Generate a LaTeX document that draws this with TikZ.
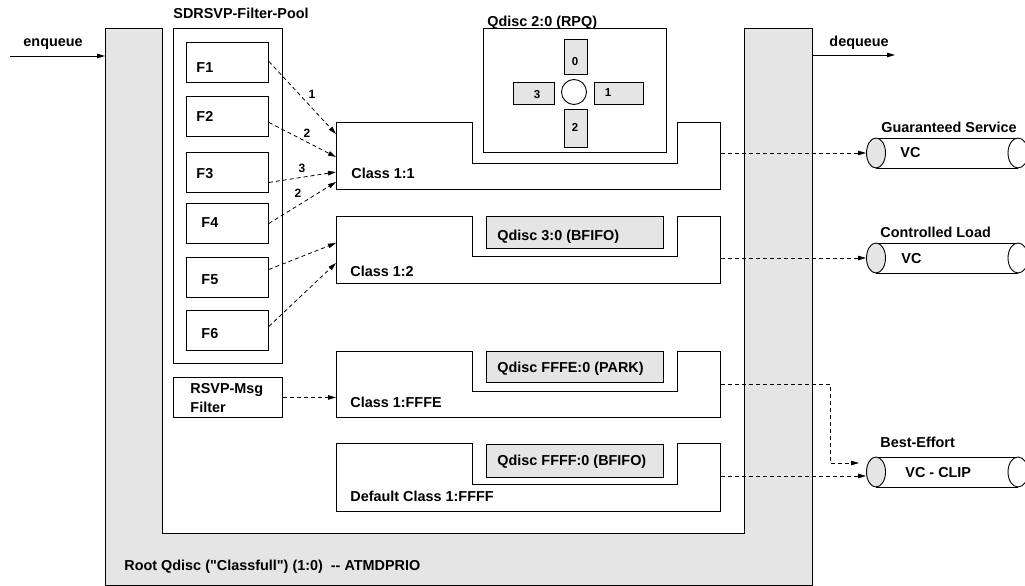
\documentclass[tikz,border=0pt]{standalone}
\usepackage{fontspec}
\setmainfont{Liberation Sans}[Ligatures=TeXOff]
\usetikzlibrary{arrows.meta,shapes.geometric}
\definecolor{qgray}{RGB}{229,229,229}

% notched outline of a traffic class: top edge, bottom of the notch, bottom edge
\newcommand\classoutline[3]{%
  \draw[fill=white] (336,#1) -- (472,#1) -- (472,#2) -- (677,#2) -- (677,#1)
    -- (720,#1) -- (720,#3) -- (336,#3) -- cycle;}

% virtual-circuit pipe: name, centre y
\newcommand\vcpipe[2]{%
  \fill[white] (876,#2-15) rectangle (1018,#2+15);
  \draw (876,#2-15) -- (1018,#2-15);
  \draw (876,#2+15) -- (1018,#2+15);
  \draw[fill=white] (1018,#2) ellipse [x radius=10, y radius=15];
  \node[draw, ellipse, fill=qgray, minimum width=19pt, minimum height=30pt, inner sep=0pt] (#1) at (876,#2) {};}

\begin{document}
\begin{tikzpicture}[x=1pt, y=-1pt, line width=0.9pt,
  lbl/.style={font=\fontsize{14.4}{17}\selectfont\bfseries, inner sep=0pt, anchor=base west},
  digit/.style={font=\fontsize{11.5}{13}\selectfont\bfseries, inner sep=0pt, anchor=base},
  weight/.style={font=\fontsize{12}{14}\selectfont\bfseries, inner sep=0pt, anchor=base},
  boxnode/.style={draw, rectangle, inner sep=0pt, anchor=north west, fill=white},
  fbox/.style={boxnode, minimum width=82pt, minimum height=40pt},
  qbox/.style={boxnode, fill=qgray},
  area/.style={rectangle, inner sep=0pt, anchor=north west, minimum width=384pt},
  flow/.style={-{Triangle[length=8pt,width=4.5pt]}, dash pattern=on 4pt off 3pt, line width=0.8pt},
  solidflow/.style={-{Triangle[length=8pt,width=4.5pt]}, line width=0.9pt}]

\useasboundingbox (0,0) rectangle (1025,586);
\clip (0,0) rectangle (1025,586);

% root qdisc frame
\path[draw, fill=qgray] (105,28) -- (162,28) -- (162,533) -- (744,533) -- (744,28)
  -- (812,28) -- (812,585) -- (105,585) -- cycle;
\coordinate (rootin) at (105,56);
\coordinate (rootout) at (812,55);
\coordinate (enq) at (10,56);
\coordinate (deq) at (895,55);
\node[lbl] (enqtxt) at (23,47) {enqueue};
\node[lbl] (deqtxt) at (829,47) {dequeue};
\draw[solidflow] (enq) -- (rootin);
\draw[solidflow] (rootout) -- (deq);
\node[lbl] (roottxt) at (124,570) {Root Qdisc ("Classfull") (1:0) \ -- ATMDPRIO};

% filter pool
\node[lbl] (pooltxt) at (173,18.5) {SDRSVP-Filter-Pool};
\node[boxnode, minimum width=109pt, minimum height=335pt] (pool) at (173,28) {};
\node[fbox] (F1) at (186,42) {};
\node[fbox] (F2) at (186,96) {};
\node[fbox] (F3) at (186,152) {};
\node[fbox] (F4) at (186,203) {};
\node[fbox] (F5) at (186,257) {};
\node[fbox] (F6) at (186,310) {};
\node[lbl] at (196,73) {F1};
\node[lbl] at (196,121) {F2};
\node[lbl] at (196,178) {F3};
\node[lbl] at (201,227) {F4};
\node[lbl] at (201,284) {F5};
\node[lbl] at (201,338) {F6};

\node[boxnode, minimum width=109pt, minimum height=40pt] (rsvp) at (173,377) {};
\node[lbl] at (190,393) {RSVP-Msg};
\node[lbl] at (190,412) {Filter};

% classes
\classoutline{122}{163}{189}
\classoutline{216}{256}{283}
\classoutline{351}{391}{417}
\classoutline{443}{484}{511}
\node[area, minimum height=67pt] (c11) at (336,122) {};
\node[area, minimum height=67pt] (c12) at (336,216) {};
\node[area, minimum height=66pt] (cfe) at (336,351) {};
\node[area, minimum height=68pt] (cff) at (336,443) {};
\node[lbl] at (351,178) {Class 1:1};
\node[lbl] at (350,276) {Class 1:2};
\node[lbl] at (350,407) {Class 1:FFFE};
\node[lbl] at (350,501) {Default Class 1:FFFF};

% leaf qdiscs
\node[boxnode, minimum width=183pt, minimum height=124pt] (rpq) at (483,28) {};
\node[lbl] at (487,27) {Qdisc 2:0 (RPQ)};
\node[draw, circle, minimum size=25pt, inner sep=0pt] (hub) at (574,92) {};
\node[qbox, minimum width=23pt, minimum height=35pt] (b0) at (564,39) {};
\node[qbox, minimum width=23pt, minimum height=38pt] (b2) at (564,109) {};
\node[qbox, minimum width=41pt, minimum height=22pt] (b3) at (513,82) {};
\node[qbox, minimum width=49pt, minimum height=22pt] (b1) at (594,82) {};
\node[digit] at (575,66) {0};
\node[digit] at (575,131) {2};
\node[digit] at (537,98) {3};
\node[digit] at (608,96) {1};

\node[qbox, minimum width=177pt, minimum height=32pt] (q3) at (486,216) {};
\node[qbox, minimum width=177pt, minimum height=31pt] (qfe) at (486,351) {};
\node[qbox, minimum width=177pt, minimum height=33pt] (qff) at (486,444) {};
\node[lbl] at (497,240) {Qdisc 3:0 (BFIFO)};
\node[lbl] at (497,372) {Qdisc FFFE:0 (PARK)};
\node[lbl] at (497,465) {Qdisc FFFF:0 (BFIFO)};

% filter to class mappings
\draw[flow] ([yshift=1pt]F1.east) -- ([yshift=-12pt]c11.north west);
\draw[flow] ([yshift=-6pt]F2.east) -- ([yshift=-35pt]c11.north west);
\draw[flow] ([yshift=-10pt]F3.east) -- ([yshift=-50pt]c11.north west);
\draw[flow] (F4.east) -- ([yshift=-60pt]c11.north west);
\draw[flow] ([yshift=8pt]F5.east) -- ([yshift=-27pt]c12.north west);
\draw[flow] ([yshift=4pt]F6.east) -- ([yshift=-47pt]c12.north west);
\draw[flow] (rsvp.east) -- (rsvp.east -| cfe.west);
\node[weight] at (312,98) {1};
\node[weight] at (307,137) {2};
\node[weight] at (302,172) {3};
\node[weight] at (298,197) {2};

% virtual circuits
\vcpipe{gs}{153}
\vcpipe{cl}{258}
\vcpipe{be}{472}
\node[lbl] at (881,132) {Guaranteed Service};
\node[lbl] at (880,237) {Controlled Load};
\node[lbl] at (880,447) {Best-Effort};
\node[lbl] at (900,157) {VC};
\node[lbl] at (901,263) {VC};
\node[lbl] at (905,477) {VC - CLIP};

\coordinate (beup) at (859,463);
\draw[flow] (c11.east |- gs.west) -- (gs.west);
\draw[flow] (c12.east |- cl.west) -- (cl.west);
\draw[flow] (cfe.east) -- ++(109,0) |- (beup);
\draw[flow] (cff.east |- 0,476) -- ([yshift=-4pt]be.west);
\end{tikzpicture}
\end{document}
